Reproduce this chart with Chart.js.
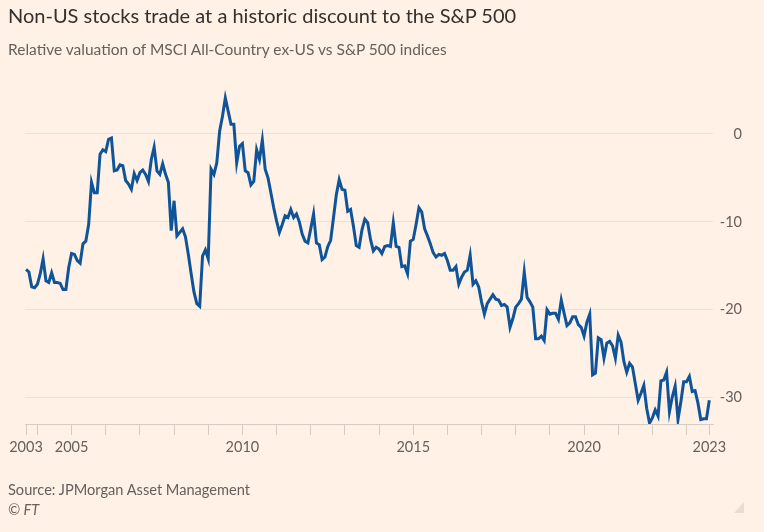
<!DOCTYPE html>
<html lang="en">
<head>
    <meta charset="UTF-8">
    <title>Non-US stocks trade at a historic discount to the S&P 500</title>
    <script src="https://cdn.jsdelivr.net/npm/chart.js"></script>
    <style>
        body {
            margin: 0;
            padding: 0;
            background-color: #FFF1E5;
            font-family: Lato, "Noto Sans", sans-serif;
            width: 764px;
            height: 532px;
            overflow: hidden;
            position: relative;
        }
        #wrap {
            position: absolute;
            left: 0;
            top: 0;
            width: 764px;
            height: 532px;
        }
        .txt {
            position: absolute;
            left: 8px;
            white-space: nowrap;
        }
        #title { top: 3px; font-size: 20px; color: #33302E; }
        #subtitle { top: 40px; font-size: 15.5px; color: #66605C; }
        #source { top: 481px; font-size: 14.6px; color: #66605C; }
        #credit { top: 501px; font-size: 14.6px; color: #66605C; font-style: italic; }
        #grip {
            position: absolute;
            left: 734px;
            top: 502px;
            width: 0;
            height: 0;
            border-left: 10px solid transparent;
            border-bottom: 11px solid #E9DDD2;
        }
    </style>
</head>
<body>
    <div id="wrap"><canvas id="myChart"></canvas></div>
    <div class="txt" id="title">Non-US stocks trade at a historic discount to the S&amp;P 500</div>
    <div class="txt" id="subtitle">Relative valuation of MSCI All-Country ex-US vs S&amp;P 500 indices</div>
    <div class="txt" id="source">Source: JPMorgan Asset Management</div>
    <div class="txt" id="credit">© FT</div>
    <div id="grip"></div>

    <script>
        // monthly series, first reading Sep 2003
        var firstYear = 2003;
        var firstMonth = 9;

        // relative valuation, %
        var valuation = [
            -15.4, -15.7, -17.4, -17.5, -17.1, -15.9, -14.2, -16.7, -16.9, -15.8,
            -16.9, -16.9, -17.0, -17.7, -17.7, -15.2, -13.6, -13.7, -14.4, -14.7,
            -12.5, -12.2, -10.3, -5.5, -6.7, -6.7, -2.3, -1.8, -2.0, -0.6,
            -0.45, -4.2, -4.1, -3.5, -3.6, -5.3, -5.7, -6.3, -4.5, -5.3,
            -4.4, -4.1, -4.6, -5.4, -2.9, -1.5, -4.2, -4.6, -3.4, -4.6,
            -5.5, -11.0, -7.6, -11.6, -11.2, -10.8, -11.7, -13.7, -15.9, -18.0,
            -19.3, -19.6, -13.9, -13.2, -14.2, -4.0, -4.6, -3.3, 0.3, 2.0,
            4.1, 2.6, 1.1, 1.1, -3.3, -1.4, -1.1, -4.2, -4.4, -5.8,
            -5.4, -1.8, -2.9,
            -0.7, -4.0, -5.0, -6.7, -8.4, -9.9, -11.2, -10.3, -9.3, -9.5,
            -8.6, -9.5, -9.1, -10.0, -11.4, -12.2, -12.4, -10.8, -9.1, -12.4,
            -12.6, -14.3, -14.0, -12.8, -12.1, -9.5, -6.9, -5.2, -6.3, -6.4,
            -8.8, -8.6, -10.5, -12.7, -12.9, -10.9, -9.7, -10.1, -12.0, -13.3,
            -12.9,
            -13.1, -13.6, -12.8, -12.7, -12.8, -10.1, -12.8, -12.9, -15.1, -15.0,
            -15.9, -12.2, -12.0, -10.3, -8.4, -8.9, -10.8, -11.6, -12.5, -13.5,
            -14.0, -13.7, -13.8, -13.6, -14.4, -15.5, -15.5, -15.1, -17.1, -16.3,
            -15.7, -15.5, -13.8, -17.1, -16.7, -17.4, -19.1, -20.5, -19.3, -18.8,
            -18.3, -18.8, -18.9, -19.5,
            -19.4, -19.7, -22.0, -21.0, -19.7, -19.3, -18.8, -15.7, -18.6, -19.1,
            -19.7, -23.3, -23.3, -23.0, -23.5, -20.0, -20.5, -20.4, -20.4, -21.1,
            -18.9, -20.4, -21.8, -21.5, -20.8, -20.8, -21.7, -22.0, -23.0, -21.4,
            -20.5, -27.4, -27.2, -23.2, -23.4, -25.5, -23.8, -23.6, -24.1, -25.5,
            -22.9, -23.7, -25.9, -27.1, -26.1, -26.5, -28.4, -30.3, -29.5, -28.6,
            -31.2, -32.9, -32.3, -31.4, -32.1, -28.1, -28.0, -27.1, -31.6, -29.9,
            -28.7, -32.5, -30.5, -28.2, -28.2, -27.6, -29.3, -29.2, -30.6, -32.5,
            -32.4, -32.4, -30.3
        ];

        var yTicks = [-30, -20, -10, 0];
        var labelledYears = [2005, 2010, 2015, 2020];

        // decimal-year x for each monthly reading
        var points = valuation.map(function (v, i) {
            return { x: firstYear + (firstMonth - 1 + i) / 12, y: v };
        });
        var startX = points[0].x;
        var endX = points[points.length - 1].x;

        var ctx = document.getElementById('myChart').getContext('2d');
        var myChart = new Chart(ctx, {
            type: 'line',
            data: {
                datasets: [{
                    label: 'Relative valuation',
                    data: points,
                    borderColor: '#0F5499',
                    borderWidth: 3,
                    pointRadius: 0,
                    tension: 0,
                    fill: false
                }]
            },
            options: {
                responsive: true,
                maintainAspectRatio: false,
                animation: false,
                layout: {
                    padding: { left: 25, right: 22, top: 90, bottom: 78 }
                },
                plugins: {
                    legend: { display: false },
                    tooltip: { enabled: false }
                },
                scales: {
                    x: {
                        type: 'linear',
                        min: startX - 0.03,
                        max: endX + 0.108,
                        afterBuildTicks: function (scale) {
                            var t = [{ value: startX }];
                            for (var y = 2004; y <= 2023; y++) t.push({ value: y });
                            t.push({ value: endX });
                            scale.ticks = t;
                        },
                        afterFit: function (scale) { scale.height = 30; },
                        ticks: {
                            autoSkip: false,
                            maxRotation: 0,
                            padding: 4,
                            color: '#66605C',
                            font: { family: 'Lato', size: 14.5 },
                            callback: function (value) {
                                if (value === startX) return String(firstYear);
                                if (value === endX) return '2023';
                                if (labelledYears.indexOf(value) >= 0) return String(value);
                                return '';
                            }
                        },
                        grid: {
                            drawOnChartArea: false,
                            drawTicks: true,
                            tickLength: 11,
                            color: '#D6CCC2'
                        },
                        border: { display: true, color: '#D6CCC2', width: 1 }
                    },
                    y: {
                        position: 'right',
                        min: -33,
                        max: 5,
                        afterBuildTicks: function (scale) {
                            scale.ticks = yTicks.map(function (v) { return { value: v }; });
                        },
                        afterFit: function (scale) { scale.width = 29; },
                        ticks: {
                            crossAlign: 'far',
                            padding: 0,
                            color: '#66605C',
                            font: { family: 'Lato', size: 14.5 }
                        },
                        grid: {
                            drawTicks: false,
                            color: '#EDE0D4',
                            lineWidth: 1
                        },
                        border: { display: false }
                    }
                }
            }
        });
    </script>
</body>
</html>
